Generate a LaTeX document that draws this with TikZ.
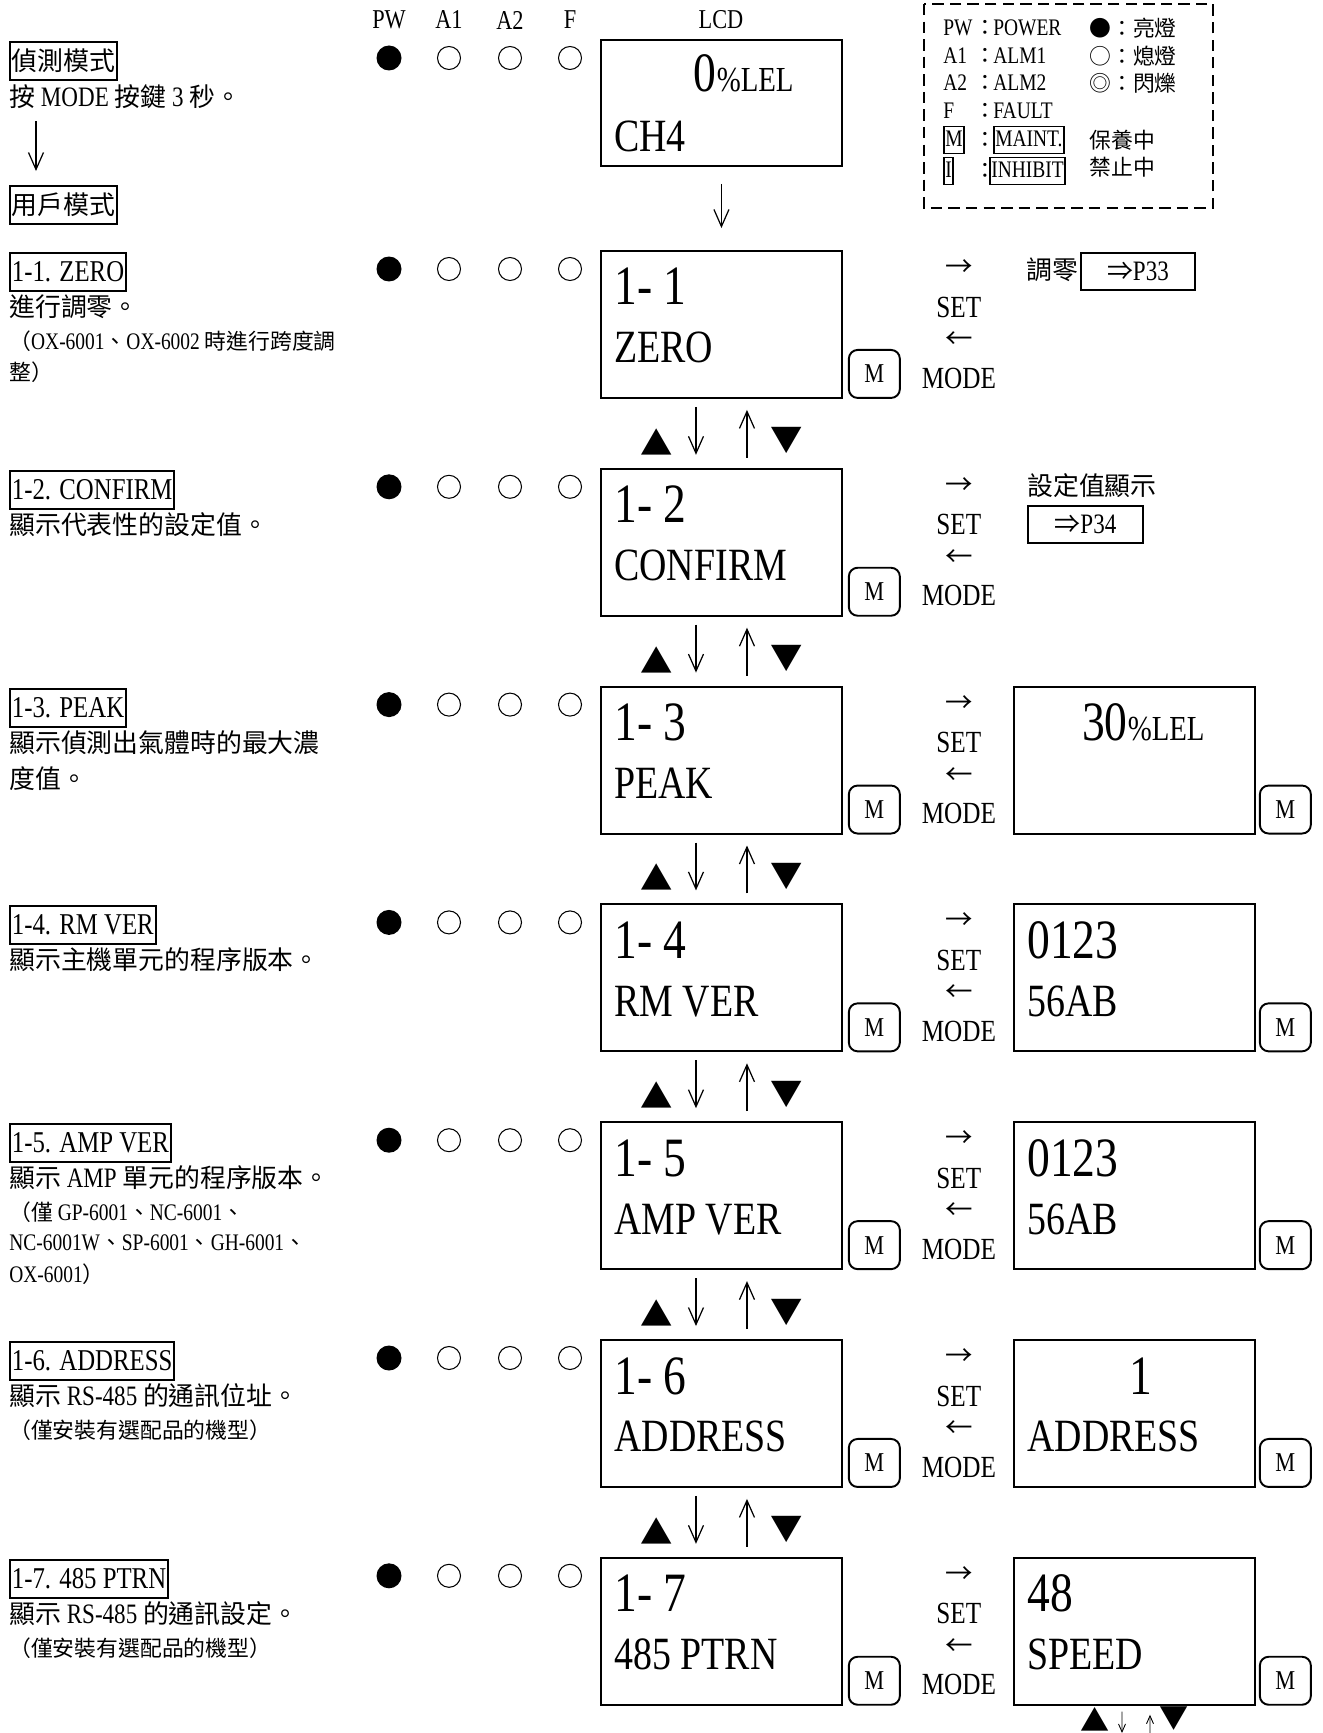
\documentclass[tikz,border=0pt]{standalone}
\usepackage{fontspec}
\usetikzlibrary{arrows.meta,positioning}

\setmainfont[FakeStretch=0.82]{Liberation Serif}
\newfontfamily\zhfont[Scale=0.92]{Noto Sans CJK TC}
\newcommand{\zh}[1]{{\zhfont #1}}
\newcommand{\fsz}[1]{\fontsize{#1}{#1}\selectfont}

\tikzset{
  lcdbox/.style={draw, line width=1.1pt, anchor=north west, inner sep=0pt,
    minimum width=4.82cm, minimum height=2.94cm},
  mkey/.style={draw, line width=1.1pt, rounded corners=5pt, anchor=south west,
    inner sep=0pt, minimum width=1.02cm, minimum height=0.96cm, font=\fsz{15.5}},
  lcdnum/.style={anchor=base west, inner sep=0pt, xshift=0.28cm, yshift=-1.1cm, font=\fsz{31.6}},
  lcdttl/.style={anchor=base west, inner sep=0pt, xshift=0.28cm, yshift=-2.26cm, font=\fsz{26.3}},
  ledon/.style={circle, fill, inner sep=0pt, minimum size=0.5cm},
  ledoff/.style={circle, draw, line width=0.6pt, inner sep=0pt, minimum size=0.46cm},
  modetag/.style={draw, line width=1.1pt, anchor=north west, inner sep=0.04cm,
    text height=0.54cm, text depth=0.14cm, font=\fsz{17.2}},
  desctext/.style={anchor=west, inner sep=0pt, font=\fsz{16}},
  notetext/.style={anchor=west, inner sep=0pt, font=\fsz{13.5}},
  hdrtext/.style={inner sep=0pt, font=\fsz{15.5}},
  sidetext/.style={inner sep=0pt, font=\fsz{17.5}},
  sidearr/.style={inner sep=0pt, font=\zhfont\fsz{17}},
  legtext/.style={inner sep=0pt, font=\fsz{13.5}},
  legbox/.style={draw, line width=0.9pt, inner sep=0.03cm, text height=0.38cm, text depth=0.1cm},
  pagebox/.style={draw, line width=1.1pt, anchor=north west, inner sep=0pt,
    minimum height=0.75cm, font=\fsz{16}},
  tritext/.style={inner sep=0pt, font=\zhfont\fsz{20}},
  flowarr/.style={line width=0.7pt, -{Straight Barb[length=0.34cm, width=0.3cm]}},
  smallarr/.style={line width=0.5pt, -{Straight Barb[length=0.16cm, width=0.14cm]}},
}

\begin{document}
\begin{tikzpicture}[x=0.02cm, y=-0.02cm]
\useasboundingbox (0,0) rectangle (1322,1733);

% column heads
\node[hdrtext] (hpw) at (389,20) {PW};
\node[hdrtext] (ha1) at (449,20) {A1};
\node[hdrtext] (ha2) at (510,20) {A2};
\node[hdrtext] (hf) at (570,20) {F};
\node[hdrtext] (hlcd) at (721,20) {LCD};

% detection mode -> user mode
\node[modetag, font=\fsz{16}] (mode0) at (9,41) {\zh{偵測模式}};
\node[desctext] (desc0) at (9,97) {\zh{按} MODE \zh{按鍵} 3 \zh{秒。}};
\node[modetag, font=\fsz{16}] (mode1) at (9,185) {\zh{用戶模式}};
\draw[flowarr, shorten <=0.24cm, shorten >=0.28cm] ([xshift=0.54cm]desc0.south west) -- ([xshift=0.54cm]mode1.north west);

\node[ledon] (pw0) at (389,58) {};
\node[ledoff] (a10) at (449,58) {};
\node[ledoff] (a20) at (510,58) {};
\node[ledoff] (f0) at (570,58) {};
\node[lcdbox, minimum height=2.52cm] (lcd0) at (600,39) {};
\node[anchor=base east, inner sep=0pt, font=\fsz{31.6}] (val0) at ([xshift=-0.98cm,yshift=-1.06cm]lcd0.north east) {0{\fsz{20}\%LEL}};
\node[lcdttl] (ttl0) at (lcd0.north west) {CH4};

% legend
\draw[line width=1.3pt, dash pattern=on 6.5pt off 3.5pt] (924,4) rectangle (1213,208);
\foreach \y/\a/\b [count=\i] in {28/PW/POWER, 56/A1/ALM1, 83/A2/ALM2, 111/F/FAULT} {
  \node[legtext, anchor=west] (lk\i) at (943,\y) {\a};
  \node[legtext] (lc\i) at (985,\y) {\zh{：}};
  \node[legtext, anchor=west] (lv\i) at (993,\y) {\b};
}
\node[legtext, legbox, anchor=west] (lk5) at (943,140) {M};
\node[legtext] (lc5) at (985,140) {\zh{：}};
\node[legtext, legbox, anchor=west] (lv5) at (993,140) {MAINT.};
\node[legtext, legbox, anchor=west] (lk6) at (943,171) {I};
\node[legtext] (lc6) at (985,171) {\zh{：}};
\node[legtext, legbox, anchor=west] (lv6) at (989,171) {INHIBIT};
\node[legtext, anchor=west] (ls1) at (1089,28) {\zh{●：亮燈}};
\node[legtext, anchor=west] (ls2) at (1089,56) {\zh{○：熄燈}};
\node[legtext, anchor=west] (ls3) at (1089,83) {\zh{◎：閃爍}};
\node[legtext, anchor=west] (ls5) at (1089,140) {\zh{保養中}};
\node[legtext, anchor=west] (ls6) at (1089,167) {\zh{禁止中}};

% user mode rows
\foreach \k/\ttl in {1/ZERO, 2/CONFIRM, 3/PEAK, 4/RM VER, 5/AMP VER, 6/ADDRESS, 7/485 PTRN} {
  \pgfmathsetmacro\rowy{250+(\k-1)*217.8}
  \node[ledon] (pw\k) at (389,\rowy+19) {};
  \node[ledoff] (a1\k) at (449,\rowy+19) {};
  \node[ledoff] (a2\k) at (510,\rowy+19) {};
  \node[ledoff] (f\k) at (570,\rowy+19) {};
  \node[lcdbox] (r\k) at (600,\rowy) {};
  \node[lcdnum] (num\k) at (r\k.north west) {1- \k};
  \node[lcdttl] (ttl\k) at (r\k.north west) {\ttl};
  \node[mkey] (key\k) at ([xshift=0.1cm]r\k.south east) {M};
  \node[sidearr] (ra\k) at ([xshift=2.32cm,yshift=-0.36cm]r\k.north east) {→};
  \node[sidetext] (set\k) at ([xshift=2.32cm,yshift=-1.14cm]r\k.north east) {SET};
  \node[sidearr] (la\k) at ([xshift=2.32cm,yshift=-1.8cm]r\k.north east) {←};
  \node[sidetext] (md\k) at ([xshift=2.32cm,yshift=-2.56cm]r\k.north east) {MODE};
}
\draw[flowarr, shorten <=0.34cm, shorten >=0.44cm] (lcd0.south) -- (r1.north);

% up / down between rows
\foreach \k [count=\j from 2] in {1,...,6} {
  \node[tritext] (up\k) at ([xshift=1.14cm,yshift=-0.86cm]r\k.south west) {▲};
  \node[tritext] (dn\k) at ([xshift=3.74cm,yshift=-0.84cm]r\k.south west) {▼};
  \draw[flowarr, shorten <=0.16cm, shorten >=0.26cm] ([xshift=1.92cm]r\k.south west) -- ([xshift=1.92cm]r\j.north west);
  \draw[flowarr, shorten <=0.2cm, shorten >=0.22cm] ([xshift=2.94cm]r\j.north west) -- ([xshift=2.94cm]r\k.south west);
}

% second screens
\foreach \k in {3,...,7} {
  \pgfmathsetmacro\rowy{250+(\k-1)*217.8}
  \node[lcdbox] (s\k) at (1013,\rowy) {};
  \node[mkey] (skey\k) at ([xshift=0.06cm]s\k.south east) {M};
}

% row 1
\node[modetag] (tag1) at (9,252) {1-1. ZERO};
\node[desctext] (desc1) at (9,307) {\zh{進行調零。}};
\node[notetext] (note1a) at (9,341) {\zh{（}OX-6001\zh{、}OX-6002 \zh{時進行跨度調}};
\node[notetext] (note1b) at (9,372) {\zh{整）}};
\node[desctext, anchor=east] (side1) at (1079,270) {\zh{調零}};
\node[pagebox, minimum width=2.28cm] (p33) at (1080,252) {\zh{⇒}P33};

% row 2
\node[modetag] (tag2) at (9,470) {1-2. CONFIRM};
\node[desctext] (desc2) at (9,525) {\zh{顯示代表性的設定值。}};
\node[desctext] (side2) at (1027,486) {\zh{設定值顯示}};
\node[pagebox, minimum width=2.3cm] (p34) at (1027,505) {\zh{⇒}P34};

% row 3
\node[modetag] (tag3) at (9,688) {1-3. PEAK};
\node[desctext] (desc3a) at (9,743) {\zh{顯示偵測出氣體時的最大濃}};
\node[desctext] (desc3b) at (9,779) {\zh{度值。}};
\node[anchor=base east, inner sep=0pt, font=\fsz{31.6}] (val3) at ([xshift=-1.02cm,yshift=-1.1cm]s3.north east) {30{\fsz{20}\%LEL}};

% row 4
\node[modetag] (tag4) at (9,905) {1-4. RM VER};
\node[desctext] (desc4) at (9,960) {\zh{顯示主機單元的程序版本。}};
\node[lcdnum] (val4) at (s4.north west) {0123};
\node[lcdttl] (sub4) at (s4.north west) {56AB};

% row 5
\node[modetag] (tag5) at (9,1123) {1-5. AMP VER};
\node[desctext] (desc5) at (9,1178) {\zh{顯示} AMP \zh{單元的程序版本。}};
\node[notetext] (note5a) at (9,1212) {\zh{（僅} GP-6001\zh{、}NC-6001\zh{、}};
\node[notetext] (note5b) at (9,1243) {NC-6001W\zh{、}SP-6001\zh{、}GH-6001\zh{、}};
\node[notetext] (note5c) at (9,1274) {OX-6001\zh{）}};
\node[lcdnum] (val5) at (s5.north west) {0123};
\node[lcdttl] (sub5) at (s5.north west) {56AB};

% row 6
\node[modetag] (tag6) at (9,1341) {1-6. ADDRESS};
\node[desctext] (desc6) at (9,1396) {\zh{顯示} RS-485 \zh{的通訊位址。}};
\node[notetext] (note6) at (9,1430) {\zh{（僅安裝有選配品的機型）}};
\node[anchor=base, inner sep=0pt, font=\fsz{31.6}] (val6) at ([xshift=2.56cm,yshift=-1.1cm]s6.north west) {1};
\node[lcdttl] (sub6) at (s6.north west) {ADDRESS};

% row 7
\node[modetag] (tag7) at (9,1559) {1-7. 485 PTRN};
\node[desctext] (desc7) at (9,1614) {\zh{顯示} RS-485 \zh{的通訊設定。}};
\node[notetext] (note7) at (9,1648) {\zh{（僅安裝有選配品的機型）}};
\node[lcdnum] (val7) at (s7.north west) {48};
\node[lcdttl] (sub7) at (s7.north west) {SPEED};

% below the last screen
\node[tritext, font=\zhfont\fsz{18}] (up8) at (1095,1719) {▲};
\node[tritext, font=\zhfont\fsz{18}] (dn8) at (1174,1719) {▼};
\coordinate (end1) at (1122,1733);
\coordinate (end2) at (1150,1733);
\draw[smallarr, shorten <=0.12cm] ([xshift=2.18cm]s7.south west) -- (end1);
\draw[smallarr, shorten >=0.18cm] (end2) -- ([xshift=2.74cm]s7.south west);
\end{tikzpicture}
\end{document}
